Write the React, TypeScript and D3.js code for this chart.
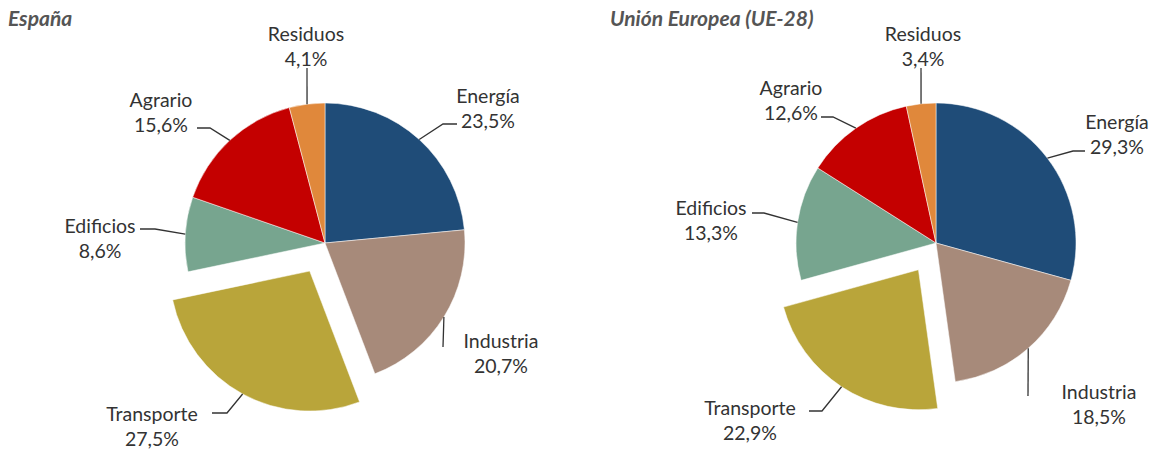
import React from "react";
import * as d3 from "d3";

// sectors, clockwise from 12 o'clock
const categories = ["Energía", "Industria", "Transporte", "Edificios", "Agrario", "Residuos"];
const spainValues = [23.5, 20.7, 27.5, 8.6, 15.6, 4.1];
const euValues = [29.3, 18.5, 22.9, 13.3, 12.6, 3.4];
const sliceColors = ["#1f4c78", "#a78a7a", "#b9a53a", "#77a58f", "#c40000", "#e0883b"];
const explodedCategory = "Transporte";

const width = 1154;
const height = 450;
const radius = 140;
const explode = 32;

// label layout relative to the pie centre: elbow, line end, text centre (name line)
type LabelPos = { elbow: [number, number]; end: [number, number]; text: [number, number] };

const spainLabels: LabelPos[] = [
  { elbow: [118, -119], end: [132, -119], text: [163, -148] },
  { elbow: [118, 104], end: [118, 104], text: [176, 97] },
  { elbow: [-98, 170], end: [-113, 170], text: [-173, 170] },
  { elbow: [-170, -14], end: [-185, -14], text: [-225, -18] },
  { elbow: [-115, -115], end: [-128, -115], text: [-164, -144] },
  { elbow: [-18, -175], end: [-18, -175], text: [-19, -210] },
];

const euLabels: LabelPos[] = [
  { elbow: [137, -92], end: [149, -92], text: [181, -122] },
  { elbow: [92, 153], end: [92, 153], text: [163, 148] },
  { elbow: [-114, 168], end: [-127, 168], text: [-186, 164] },
  { elbow: [-172, -30], end: [-184, -30], text: [-225, -36] },
  { elbow: [-103, -126], end: [-115, -126], text: [-145, -156] },
  { elbow: [-15, -175], end: [-15, -175], text: [-13, -210] },
];

const fmt = (v: number) => d3.format(".1f")(v).replace(".", ",") + "%";

function Pie({ title, titleX, cx, cy, values, labels }: {
  title: string; titleX: number; cx: number; cy: number; values: number[]; labels: LabelPos[];
}) {
  const data = categories.map((c, i) => ({ name: c, value: values[i], color: sliceColors[i], label: labels[i] }));
  const arcs = d3.pie<any>().sort(null).value((d) => d.value)(data);
  const arc = d3.arc<any>().innerRadius(0).outerRadius(radius);
  const rim = d3.arc<any>().innerRadius(radius).outerRadius(radius);

  return (
    <g>
      <text x={titleX} y={26} fontFamily="Lato, sans-serif" fontWeight="bold" fontStyle="italic"
        fontSize={21} fill="#555">{title}</text>
      <g transform={`translate(${cx},${cy})`}>
        {arcs.map((a) => {
          const mid = (a.startAngle + a.endAngle) / 2;
          const off = a.data.name === explodedCategory ? explode : 0;
          const ox = Math.sin(mid) * off;
          const oy = -Math.cos(mid) * off;
          const [px, py] = rim.centroid(a);
          const lab = a.data.label as LabelPos;
          return (
            <g key={a.data.name}>
              <path d={arc(a) as string} transform={`translate(${ox},${oy})`} fill={a.data.color}
                stroke="#fff" strokeWidth={0.5} />
              <polyline
                points={`${px + ox},${py + oy} ${lab.elbow[0]},${lab.elbow[1]} ${lab.end[0]},${lab.end[1]}`}
                fill="none" stroke="#333" strokeWidth={1.3} />
              <text x={lab.text[0]} y={lab.text[1]} textAnchor="middle" dominantBaseline="central"
                fontFamily="Lato, sans-serif" fontSize={19.5} fill="#333">
                {a.data.name}
                <tspan x={lab.text[0]} dy={25}>{fmt(a.data.value)}</tspan>
              </text>
            </g>
          );
        })}
      </g>
    </g>
  );
}

export default function App() {
  return (
    <svg width={width} height={height} style={{ position: "absolute", left: 0, top: 0, background: "#fff" }}>
      <Pie title="España" titleX={8} cx={325} cy={243} values={spainValues} labels={spainLabels} />
      <Pie title="Unión Europea (UE-28)" titleX={610} cx={936} cy={243} values={euValues} labels={euLabels} />
    </svg>
  );
}
